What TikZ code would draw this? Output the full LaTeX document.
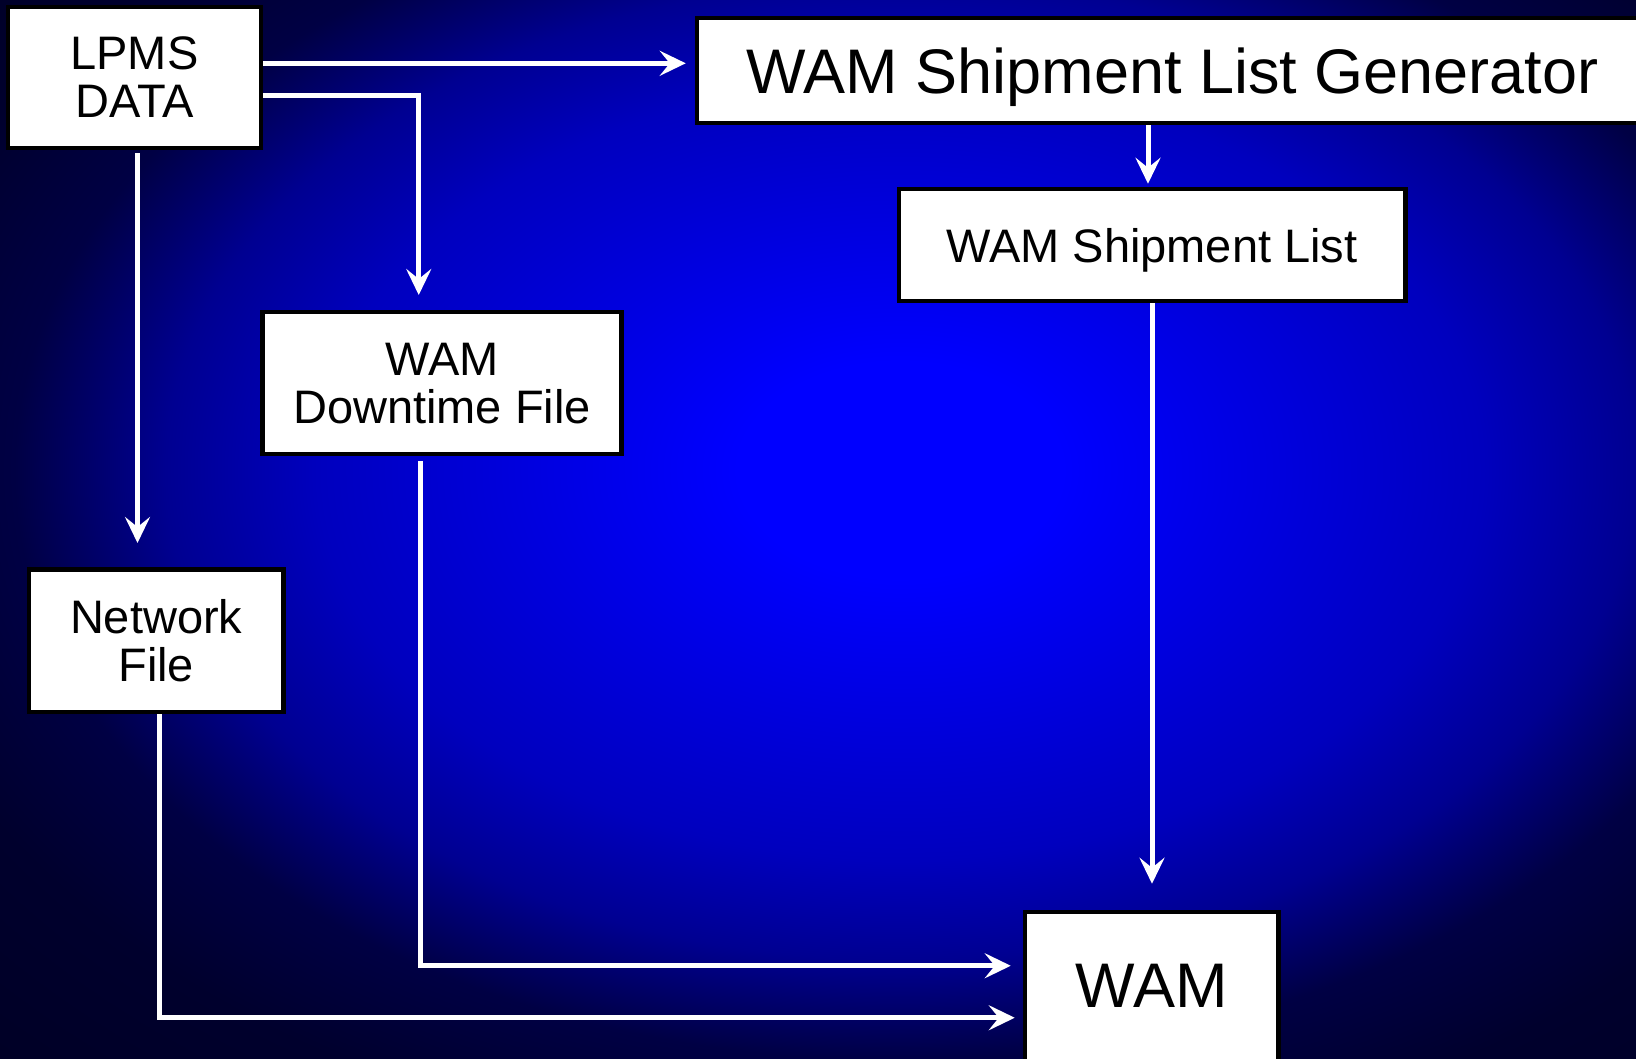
\documentclass[tikz,border=0pt]{standalone}
\usepackage{fontspec}
\setmainfont{Liberation Sans}
\usetikzlibrary{arrows.meta}

\definecolor{glowA}{RGB}{0,0,255}
\definecolor{glowB}{RGB}{0,0,190}
\definecolor{glowC}{RGB}{0,0,145}
\definecolor{glowD}{RGB}{0,0,68}
\definecolor{glowE}{RGB}{0,0,45}
\definecolor{glowF}{RGB}{0,0,35}
\pgfdeclareradialshading{glow}{\pgfpointorigin}{%
  color(0bp)=(glowA); color(3bp)=(glowA); color(10.8bp)=(glowB);
  color(13.6bp)=(glowC); color(16.4bp)=(glowD); color(19.4bp)=(glowE);
  color(25bp)=(glowF); color(50bp)=(glowF)}

\begin{document}
\begin{tikzpicture}[
x=1pt, y=-1pt,
  box/.style = {rectangle, draw, fill=white, line width=4.5pt,% white boxes, black frame
                inner sep=0pt, align=center, text depth=0pt,
                font=\fontsize{47}{48}\selectfont},
  big/.style = {font=\fontsize{63}{66}\selectfont},
 flow/.style = {draw=white, line width=5pt,% white connectors
                -{Stealth[length=26pt, width=25pt, inset=10pt]}},
                    ]
\useasboundingbox (0,0) rectangle (1636,1059);
\clip (0,0) rectangle (1636,1059);
\shade[shading=glow] (-450,-430) rectangle (2250,1370);% glow round (900,470)

\node[box, minimum width=253pt, minimum height=141pt] (lpms) at (134.5,77.5) {LPMS\\DATA};
\node[box, big, minimum width=951pt, minimum height=105pt] (slg) at (1172.5,70.5) {WAM Shipment List Generator};
\node[box, minimum width=506.5pt, minimum height=112pt] (list) at (1152,245) {WAM Shipment List};
\node[box, minimum width=359pt, minimum height=141.5pt] (down) at (442,383) {WAM\\Downtime File};
\node[box, minimum width=254.5pt, minimum height=142.5pt] (net) at (156.25,640.5) {Network\\File};
\node[box, big, minimum width=253.5pt, text height=95pt, text depth=70pt,
      anchor=base] (wam) at (1151.75,1007) {WAM};

\coordinate (gen) at ([yshift=14.2pt]lpms.east);
\coordinate (dwn) at ([yshift=-18.5pt]lpms.east);
\coordinate (nd) at ([xshift=3pt]lpms.south);
\coordinate (ld) at ([xshift=-4pt]list.north);
\coordinate (wd) at ([yshift=-56pt]wam.north west);
\coordinate (wn) at ([yshift=-108pt]wam.north west);

\draw[flow, shorten >=9pt] (gen) -- (gen -| slg.west);
\draw[flow, shorten >=15pt] (dwn) -| ([xshift=-23.25pt]down.north);
\draw[flow, shorten <=3pt, shorten >=24pt] (nd) -- (nd |- net.north);
\draw[flow, shorten >=3pt] (ld |- slg.south) -- (ld);
\draw[flow, shorten >=26pt] (list.south) -- (list.south |- wam.north);
\draw[flow, shorten <=5pt, shorten >=12pt] ([xshift=-21.5pt]down.south) |- (wd);
\draw[flow, shorten >=8pt] ([xshift=3.2pt]net.south) |- (wn);
\end{tikzpicture}
\end{document}
